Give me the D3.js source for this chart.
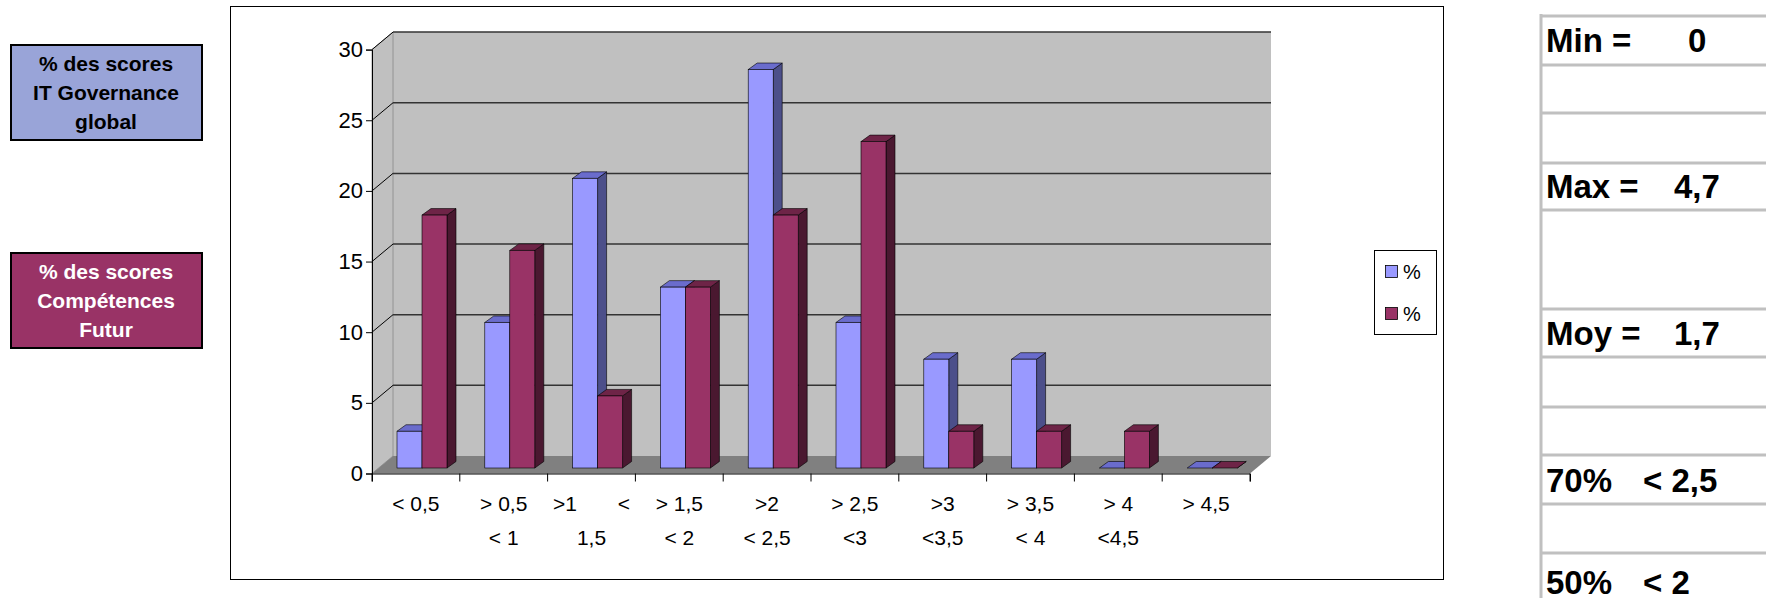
<!DOCTYPE html>
<html><head><meta charset="utf-8">
<script src="https://cdn.jsdelivr.net/npm/d3@7"></script>
<style>body{margin:0;background:#fff}svg{display:block;font-family:"Liberation Sans",Arial,sans-serif}</style>
</head><body><svg id="c" width="1766" height="598"></svg>
<script>
const categories = ["c0","c1","c2","c3","c4","c5","c6","c7","c8","c9"];
const labelLine1 = ["< 0,5","> 0,5",">1       <","> 1,5",">2","> 2,5",">3","> 3,5","> 4","> 4,5"];
const labelLine2 = ["","< 1","1,5","< 2","< 2,5","<3","<3,5","< 4","<4,5",""];
const blueValues = [2.6,10.3,20.5,12.8,28.2,10.3,7.7,7.7,0,0];
const redValues = [17.9,15.4,5.1,12.8,17.9,23.1,2.6,2.6,2.6,0];
const yTicks = [0,5,10,15,20,25,30];
const statsRows = [["Min =","0"],["Max =","4,7"],["Moy =","1,7"],["70%","< 2,5"],["50%","< 2"]];

const svg = d3.select("#c");
const DX = 21, DY = -17.5;
svg.append("rect").attr("x",230.5).attr("y",6.5).attr("width",1213).attr("height",573)
  .attr("fill","#fff").attr("stroke","#000");

const x = d3.scaleBand().domain(categories).range([372,1250]);
const y = d3.scaleLinear().domain([0,30]).range([473.5,49.6]);
const g = svg.append("g");
g.append("rect").attr("x",372+DX).attr("y",y(30)+DY).attr("width",878).attr("height",y(0)-y(30))
  .attr("fill","#c0c0c0");
g.append("path").attr("d",`M372,${y(0)}L372,${y(30)}L${372+DX},${y(30)+DY}L${372+DX},${y(0)+DY}Z`)
  .attr("fill","#c0c0c0").attr("stroke","#888").attr("stroke-width",0.8);
g.append("path").attr("d",`M372,${y(0)}L1250,${y(0)}L${1250+DX},${y(0)+DY}L${372+DX},${y(0)+DY}Z`)
  .attr("fill","#808080");
yTicks.slice(1).forEach(t=>{
  g.append("line").attr("x1",372+DX).attr("x2",1250+DX).attr("y1",y(t)+DY).attr("y2",y(t)+DY)
    .attr("stroke","#333").attr("stroke-width",1.5);
  g.append("line").attr("x1",372).attr("x2",372+DX).attr("y1",y(t)).attr("y2",y(t)+DY).attr("stroke","#000");
});
const ya = svg.append("g").attr("transform","translate(372,0)").call(d3.axisLeft(y).tickValues(yTicks).tickSize(6).tickPadding(3));
ya.selectAll("text").attr("font-size",22).attr("fill","#000").attr("font-family","Liberation Sans");
ya.select(".domain").attr("stroke","#000");
const xa = svg.append("g").attr("transform",`translate(0,${y(0)})`)
  .call(d3.axisBottom(x).tickSize(8).tickFormat(""));
xa.selectAll(".tick line").attr("transform",`translate(${-x.bandwidth()/2},0)`);
svg.append("line").attr("x1",1250).attr("x2",1250).attr("y1",y(0)).attr("y2",y(0)+8).attr("stroke","#000");
xa.select(".domain").attr("stroke","#000");
categories.forEach((c,i)=>{
  const cx = x(c)+x.bandwidth()/2;
  svg.append("text").attr("x",cx).attr("y",511).attr("text-anchor","middle").attr("font-size",21)
    .attr("xml:space","preserve").style("white-space","pre").text(labelLine1[i]);
  svg.append("text").attr("x",cx).attr("y",545).attr("text-anchor","middle").attr("font-size",21).text(labelLine2[i]);
});
const bw = 25, bd = 9, bdy = -6.5, bBase = 468;
const hs = (y(0)-y(30))/30;
function bar(x0,v,front,top,side){
  const h = v*hs, yt = bBase-h;
  const gb = g.append("g");
  gb.append("path").attr("d",`M${x0+bw},${bBase}L${x0+bw+bd},${bBase+bdy}L${x0+bw+bd},${yt+bdy}L${x0+bw},${yt}Z`)
    .attr("fill",side).attr("stroke","#000").attr("stroke-width",0.6);
  gb.append("path").attr("d",`M${x0},${yt}L${x0+bd},${yt+bdy}L${x0+bw+bd},${yt+bdy}L${x0+bw},${yt}Z`)
    .attr("fill",top).attr("stroke","#000").attr("stroke-width",0.6);
  gb.append("rect").attr("x",x0).attr("y",yt).attr("width",bw).attr("height",h)
    .attr("fill",front).attr("stroke","#000").attr("stroke-width",0.6);
}
categories.forEach((c,i)=>{
  const x0 = x(c)+25;
  bar(x0,blueValues[i],"#9999ff","#6a6ccc","#4c4f8a");
  bar(x0+bw,redValues[i],"#993366","#6e2447","#4a1830");
});
svg.append("rect").attr("x",1374.5).attr("y",250.5).attr("width",62).attr("height",84).attr("fill","#fff").attr("stroke","#000");
[["#9999ff",273],["#993366",315]].forEach(([col,yy])=>{
  svg.append("rect").attr("x",1385.5).attr("y",yy-7.5).attr("width",12).attr("height",12).attr("fill",col).attr("stroke","#000").attr("stroke-width",0.8);
  svg.append("text").attr("x",1403).attr("y",yy+6).attr("font-size",20).text("%");
});
function sideBox(y0,fill,col,lines){
  svg.append("rect").attr("x",11).attr("y",y0).attr("width",191).attr("height",95).attr("fill",fill)
    .attr("stroke","#000").attr("stroke-width",2);
  lines.forEach((t,i)=>svg.append("text").attr("x",106).attr("y",y0+26+i*29).attr("text-anchor","middle")
    .attr("font-size",21).attr("font-weight","bold").attr("fill",col).text(t));
}
sideBox(45,"#99a4d8","#000",["% des scores","IT Governance","global"]);
sideBox(253,"#993366","#fff",["% des scores","Compétences","Futur"]);
const rowLines = [16,65,113,163,210,309,357,407,455,504,553];
svg.append("line").attr("x1",1541).attr("x2",1541).attr("y1",14).attr("y2",598).attr("stroke","#c0c0c0").attr("stroke-width",3);
rowLines.forEach(r=>svg.append("line").attr("x1",1541).attr("x2",1766).attr("y1",r).attr("y2",r).attr("stroke","#c0c0c0").attr("stroke-width",3));
const rowY = [52,198,345,492,594];
const valX = [1688,1674,1674,1643,1643];
statsRows.forEach((r,i)=>{
  svg.append("text").attr("x",1546).attr("y",rowY[i]).attr("font-size",33).attr("font-weight","bold").text(r[0]);
  svg.append("text").attr("x",valX[i]).attr("y",rowY[i]).attr("font-size",33).attr("font-weight","bold").text(r[1]);
});
</script></body></html>
